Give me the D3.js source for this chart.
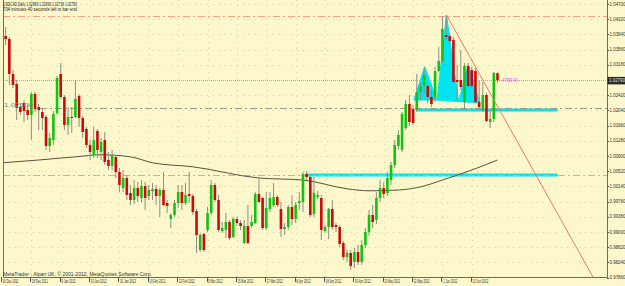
<!DOCTYPE html>
<html><head><meta charset="utf-8">
<script src="https://cdn.jsdelivr.net/npm/d3@7"></script>
<style>body{margin:0;background:#fcf8cc;}svg{display:block}</style>
</head><body><svg id="c" width="625" height="286"></svg>
<script>
// ---- data ----
const openP=[1.03375,1.039,1.03825,1.0295,1.027,1.02125,1.02225,1.0205,1.01925,1.0245,1.02125,1.02,1.01875,1.0115,1.013,1.01975,1.0295,1.02375,1.01675,1.01875,1.01875,1.024,1.0185,1.01575,1.01175,1.00925,1.01525,1.01,1.013,1.008,1.0065,1.00875,1.005,1.001,1.0035,0.99975,0.998,1.001,0.9985,1.0015,0.999,1.00025,1.00075,0.999,1.0005,0.99725,0.99325,0.99425,0.99725,1.0,0.99725,0.9995,0.999,0.99525,0.9855,0.9895,0.9905,0.99475,1.00175,0.998,0.99025,0.9905,0.9925,0.98875,0.99325,0.99225,0.98725,0.9915,0.9915,0.99225,0.9995,0.9985,0.991,0.99575,0.99675,0.99875,0.99575,0.99075,0.99125,0.99625,0.99325,0.99725,0.9975,1.0045,1.00375,0.9945,0.99875,0.9985,0.99025,0.99125,0.99575,0.99175,0.99125,0.98725,0.98375,0.98475,0.9825,0.985,0.9825,0.98675,0.99,0.99425,0.993,0.9985,1.001,0.99975,1.003,1.00675,1.0115,1.0105,1.016,1.022,1.02075,1.0205,1.025,1.02675,1.0265,1.02375,1.02375,1.03025,1.03275,1.03925,1.039,1.038,1.028,1.028,1.0225,1.0315,1.0305,1.03025,1.0225,1.0205,1.02425,1.0175,1.01825,1.02969];
const highP=[1.0405,1.04125,1.03875,1.0305,1.028,1.02225,1.023,1.02175,1.025,1.025,1.022,1.021,1.01925,1.01475,1.02025,1.029,1.03225,1.02425,1.02125,1.02125,1.028,1.0245,1.019,1.01625,1.013,1.01625,1.01575,1.0135,1.015,1.01,1.0105,1.00925,1.006,1.0055,1.00425,1.00175,1.003,1.0025,1.003,1.0025,1.00175,1.00225,1.00175,1.001,1.005,0.998,0.99475,0.998,1.00175,1.00175,1.00225,1.005,0.9995,0.99575,0.98975,0.98975,0.99625,1.003,1.00225,0.99925,0.9925,0.99475,0.993,0.99375,0.99375,0.993,0.993,0.99675,0.99425,1.0,1.0035,0.99875,1.0,1.0,1.00225,0.99925,0.9975,0.99225,0.99675,0.99925,0.9975,1.0,1.005,1.00525,1.00425,1.00375,1.00025,0.99925,0.99175,0.996,0.998,0.99225,0.99175,0.98775,0.9855,0.9855,0.986,0.98675,0.988,0.991,0.9955,0.99675,1.0,1.003,1.0025,1.005,1.0075,1.013,1.0155,1.02,1.023,1.02425,1.02175,1.0295,1.02725,1.031,1.02725,1.0255,1.03125,1.03625,1.044,1.04425,1.03975,1.03875,1.03175,1.0355,1.03225,1.03225,1.03125,1.031,1.02775,1.0275,1.02475,1.0205,1.03,1.0299];
const lowP=[1.033,1.03675,1.02675,1.026,1.018,1.01925,1.0175,1.018,1.013,1.02,1.0155,1.0155,1.0105,1.01,1.01175,1.01925,1.02325,1.0155,1.01425,1.01475,1.0185,1.01625,1.0135,1.011,1.008,1.0085,1.0085,1.008,1.00675,1.0055,1.0055,1.0035,1.0,1.0,0.998,0.99675,0.997,0.9975,0.9975,0.9955,0.998,0.998,0.99675,0.99375,0.9965,0.99475,0.991,0.99375,0.996,0.9955,0.99675,0.99725,0.99425,0.98475,0.985,0.985,0.99,0.99425,0.9975,0.99,0.98975,0.9885,0.988,0.9885,0.9915,0.9905,0.987,0.987,0.991,0.992,0.99725,0.9905,0.9905,0.995,0.99625,0.99625,0.98875,0.98925,0.9905,0.99175,0.99225,0.9955,0.995,1.003,0.99375,0.99375,0.99825,0.988,0.98975,0.98825,0.9905,0.99,0.98625,0.983,0.9825,0.9805,0.981,0.98175,0.98175,0.986,0.989,0.991,0.992,0.9975,0.9985,0.999,1.00175,1.006,1.0105,1.01,1.0155,1.0165,1.01675,1.02,1.023,1.02475,1.02225,1.02125,1.0225,1.03,1.03225,1.038,1.03675,1.027,1.023,1.0255,1.0205,1.026,1.026,1.02225,1.021,1.02,1.0175,1.016,1.0175,1.02736];
const closeP=[1.0375,1.03825,1.0295,1.02675,1.021,1.02,1.02025,1.01925,1.0245,1.02075,1.0205,1.0185,1.0115,1.0135,1.0195,1.0285,1.02375,1.01675,1.01875,1.0185,1.02325,1.0185,1.015,1.01175,1.01,1.013,1.0105,1.0125,1.0075,1.0065,1.00925,1.005,1.00175,1.0035,0.99925,0.998,1.001,0.999,1.0015,0.9985,1.0005,1.00075,0.999,1.0005,0.99675,0.9965,0.99425,0.99725,1.0,0.99725,0.99925,0.999,0.995,0.98925,0.98925,0.9855,0.99475,1.00175,0.998,0.9905,0.991,0.9925,0.9885,0.99325,0.99225,0.9915,0.9915,0.98725,0.9925,0.9995,0.9975,0.991,0.996,0.9985,0.99875,0.99675,0.99075,0.99125,0.99625,0.99325,0.99675,0.99775,1.0045,1.00375,0.99425,0.99975,0.99925,0.9905,0.99125,0.99575,0.99125,0.99125,0.987,0.98375,0.98475,0.9815,0.985,0.9825,0.98675,0.99,0.99425,0.9925,0.9985,1.001,0.9995,1.0035,1.00675,1.01175,1.01425,1.0195,1.022,1.0175,1.01725,1.025,1.0265,1.02925,1.02375,1.022,1.03025,1.03275,1.04075,1.03875,1.03775,1.0275,1.0275,1.02625,1.0315,1.0265,1.0265,1.0225,1.02125,1.02425,1.01775,1.01825,1.02975,1.0279];

const timeTickBars=[0,8,16,24,32,40,48,56,64,72,80,88,96,104,112,120,128];
const timeTickLabels=["16 Dec 2011","28 Dec 2011","9 Jan 2012","19 Jan 2012","31 Jan 2012","10 Feb 2012","22 Feb 2012","5 Mar 2012","15 Mar 2012","27 Mar 2012","6 Apr 2012","18 Apr 2012","30 Apr 2012","10 May 2012","22 May 2012","1 Jun 2012","13 Jun 2012"];
const priceTicks=[1.047,1.0432,1.0394,1.0356,1.0318,1.0242,1.0204,1.0166,1.0128,1.009,1.0052,1.0014,0.9976,0.9938,0.99,0.9862,0.9824,0.9786];
const bidPrice=1.0279;

const maBars=[0,10,20,27,35,41,52,70,82,94,100,108,115,120,128,135];
const maValues=[1.0073,1.008,1.0088,1.0093,1.0088,1.0073,1.0063,1.0035,1.003,1.0008,1.0003,1.0005,1.0015,1.003,1.0055,1.008];

const orangeLevels=[1.044,1.00425];
const grayLevel=1.021, grayLevelText="1.02100";
const cyanLevels=[{p:1.0205,from:113.2,to:151.4},{p:1.00425,from:82.6,to:151.4}];
const trendPts=[[121.1,1.04425],[161,0.97875]];
const hsTriangles=[
 [[112.2,1.023],[115.2,1.03133],[118.5,1.023]],
 [[118.5,1.023],[121.1,1.04425],[124.4,1.02258]],
 [[124.4,1.02258],[127,1.03175],[130.2,1.02233]]
];
const title1="USDCAD,Daily  1.02969 1.02990 1.02736 1.02790";
const title2="704 minutes 40 seconds left to bar end";
const copyright="MetaTrader - Alpari UK, \u00a9 2001-2012, MetaQuotes Software Corp.";
const distText="4790.40";

// ---- drawing ----
const svg=d3.select("#c");
const FONT="Liberation Sans, Arial, sans-serif";
const L=3,R=607,T=0,B=277;
const x=d3.scaleLinear().domain([0,135]).range([2,497.5]);
const y=d3.scaleLinear().domain([0.97875,1.047]).range([277,4]);

svg.append("rect").attr("width",625).attr("height",286).attr("fill","#fcf8cc");
svg.append("defs").append("clipPath").attr("id","pc").append("rect")
  .attr("x",L).attr("y",T).attr("width",R-L).attr("height",B-T);
const g=svg.append("g").attr("clip-path","url(#pc)");

// grid
g.selectAll(".gh").data(priceTicks).join("line")
 .attr("x1",L).attr("x2",R).attr("y1",d=>Math.round(y(d))+.5).attr("y2",d=>Math.round(y(d))+.5)
 .attr("stroke","#d9d2a4").attr("stroke-dasharray","1,5");
g.selectAll(".gv").data(timeTickBars).join("line")
 .attr("y1",T).attr("y2",B).attr("x1",d=>Math.round(x(d))+.5).attr("x2",d=>Math.round(x(d))+.5)
 .attr("stroke","#d9d2a4").attr("stroke-dasharray","1,5");

// head & shoulders triangles
g.selectAll(".tri").data(hsTriangles).join("path")
 .attr("d",t=>d3.line().x(p=>x(p[0])).y(p=>y(p[1]))(t)+"Z")
 .attr("fill","#00e4f0").attr("stroke","#00e4f0").attr("stroke-width",1);

// cyan levels
g.selectAll(".cy").data(cyanLevels).join("line")
 .attr("x1",d=>x(d.from)).attr("x2",d=>x(d.to)).attr("y1",d=>y(d.p)).attr("y2",d=>y(d.p))
 .attr("stroke","#00e4f0").attr("stroke-width",3);

// orange dash-dot levels
g.selectAll(".or").data(orangeLevels).join("line")
 .attr("x1",L).attr("x2",R).attr("y1",d=>Math.round(y(d))+.5).attr("y2",d=>Math.round(y(d))+.5)
 .attr("stroke","#f4a07c").attr("stroke-width",1).attr("stroke-dasharray","7,3,2,3");

// gray dash-dot level
g.append("line").attr("x1",40).attr("x2",R).attr("y1",Math.round(y(grayLevel))+.5).attr("y2",Math.round(y(grayLevel))+.5)
 .attr("stroke","#9a9a8a").attr("stroke-dasharray","7,3,2,3");
svg.append("text").attr("x",4).attr("y",y(grayLevel)-1).text(grayLevelText)
 .attr("font-family",FONT).attr("font-size",4.6).attr("fill","#888")
 .attr("textLength",29).attr("lengthAdjust","spacingAndGlyphs");

// bid line
g.append("line").attr("x1",L).attr("x2",R).attr("y1",Math.round(y(bidPrice))+.5).attr("y2",Math.round(y(bidPrice))+.5)
 .attr("stroke","#b0aa90").attr("stroke-dasharray","1,1");

// moving average
g.append("path").datum(maBars.map((b,i)=>[b,maValues[i]]))
 .attr("d",d3.line().x(d=>x(d[0])).y(d=>y(d[1])).curve(d3.curveMonotoneX))
 .attr("fill","none").attr("stroke","#5b5042").attr("stroke-width",1);

// candles
const bars=openP.map((o,i)=>({i,o,h:highP[i],l:lowP[i],c:closeP[i]}));
const cg=g.selectAll(".cd").data(bars).join("g");
cg.append("line").attr("x1",d=>x(d.i)).attr("x2",d=>x(d.i))
 .attr("y1",d=>y(d.h)).attr("y2",d=>y(d.l)).attr("stroke","#8e8e80").attr("stroke-width",1);
cg.append("rect").attr("x",d=>x(d.i)-1.3).attr("width",2.6)
 .attr("y",d=>y(Math.max(d.o,d.c))).attr("height",d=>Math.max(0.8,Math.abs(y(d.o)-y(d.c))))
 .attr("fill",d=>d.c>d.o?"#12c412":(d.c<d.o?"#cc0a0a":"#777"));

// trend line
g.append("line").attr("x1",x(trendPts[0][0])).attr("y1",y(trendPts[0][1]))
 .attr("x2",x(trendPts[1][0])).attr("y2",y(trendPts[1][1]))
 .attr("stroke","#f07a6a").attr("stroke-width",1);

// distance text
svg.append("text").attr("x",502).attr("y",y(bidPrice)+1.6).text(distText)
 .attr("font-family",FONT).attr("font-size",4.6).attr("fill","#f050f0")
 .attr("textLength",16).attr("lengthAdjust","spacingAndGlyphs");

// frame
svg.append("path").attr("d",`M${L+.5},${T}V${B+.5}H${R+.5}V${T}`).attr("fill","none").attr("stroke","#6e6c58").attr("stroke-width",1);

// price axis
const pa=svg.append("g");
pa.selectAll("line").data(priceTicks).join("line")
 .attr("x1",R).attr("x2",R+2).attr("y1",d=>Math.round(y(d))+.5).attr("y2",d=>Math.round(y(d))+.5).attr("stroke","#555");
pa.selectAll("text").data(priceTicks).join("text")
 .attr("x",R+2.5).attr("y",d=>y(d)+1.6).text(d=>d.toFixed(5))
 .attr("font-family",FONT).attr("font-size",4.6).attr("fill","#333")
 .attr("textLength",16).attr("lengthAdjust","spacingAndGlyphs");
// bid box
svg.append("rect").attr("x",R+.5).attr("y",y(bidPrice)-3.5).attr("width",18).attr("height",7.5).attr("fill","#2b2b2b");
svg.append("text").attr("x",R+2).attr("y",y(bidPrice)+1.8).text(bidPrice.toFixed(5))
 .attr("font-family",FONT).attr("font-size",4.6).attr("fill","#e8e0d0")
 .attr("textLength",16).attr("lengthAdjust","spacingAndGlyphs");

// time axis
const ta=svg.append("g");
ta.selectAll("line").data(timeTickBars).join("line")
 .attr("x1",d=>Math.round(x(d))-.5).attr("x2",d=>Math.round(x(d))-.5).attr("y1",B).attr("y2",B+5).attr("stroke","#555");
ta.selectAll("text").data(timeTickLabels).join("text")
 .attr("x",(d,i)=>x(timeTickBars[i])+0.5).attr("y",283).text(d=>d)
 .attr("font-family",FONT).attr("font-size",4.6).attr("fill","#333")
 .attr("textLength",d=>d.length*1.45).attr("lengthAdjust","spacingAndGlyphs");

// titles
svg.append("text").attr("x",3).attr("y",6).text(title1).attr("font-family",FONT).attr("font-size",4.8).attr("fill","#222")
 .attr("textLength",74).attr("lengthAdjust","spacingAndGlyphs");
svg.append("text").attr("x",3).attr("y",10.5).text(title2).attr("font-family",FONT).attr("font-size",4.8).attr("fill","#222")
 .attr("textLength",74).attr("lengthAdjust","spacingAndGlyphs");
svg.append("text").attr("x",3).attr("y",275.5).text(copyright).attr("font-family",FONT).attr("font-size",4.8).attr("fill","#333")
 .attr("textLength",149).attr("lengthAdjust","spacingAndGlyphs");
</script></body></html>
